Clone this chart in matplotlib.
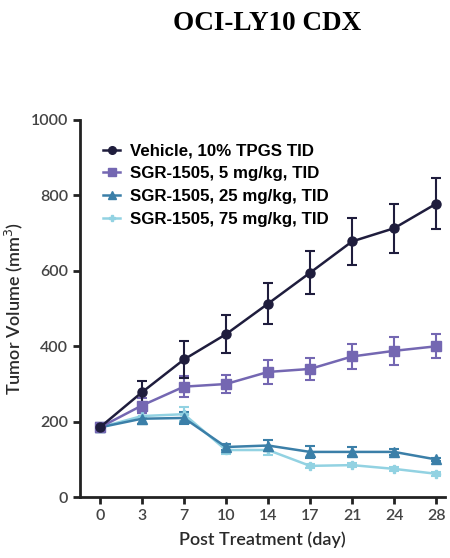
import matplotlib
matplotlib.use("Agg")
import matplotlib.pyplot as plt
from matplotlib.lines import Line2D
import numpy as np

days = ["0", "3", "7", "10", "14", "17", "21", "24", "28"]
labels = ["Vehicle, 10% TPGS TID", "SGR-1505, 5 mg/kg, TID",
          "SGR-1505, 25 mg/kg, TID", "SGR-1505, 75 mg/kg, TID"]
vehicle = [185, 278, 365, 432, 513, 595, 678, 713, 778]
vehicle_err = [12, 30, 50, 50, 55, 57, 62, 65, 68]
mg5 = [185, 243, 293, 300, 332, 340, 373, 388, 400]
mg5_err = [12, 20, 28, 25, 32, 30, 33, 37, 32]
mg25 = [185, 208, 210, 133, 137, 120, 120, 120, 100]
mg25_err = [12, 15, 15, 8, 15, 15, 12, 8, 5]
mg75 = [185, 215, 220, 125, 125, 83, 85, 75, 62]
mg75_err = [12, 20, 18, 10, 12, 5, 5, 5, 5]

series = [vehicle, mg5, mg25, mg75]
errors = [vehicle_err, mg5_err, mg25_err, mg75_err]
colors = ["#1f1d3d", "#7467b2", "#3b7fa8", "#92d2e2"]
markers = ["o", "s", "^", "P"]
msizes = [6.5, 6.5, 6.5, 5.5]

fig = plt.figure(figsize=(4.5, 5.58), dpi=100)
ax = fig.add_axes([0.178, 0.109, 0.81, 0.676])
x = np.arange(len(days))
for ys, es, c, m, ms in reversed(list(zip(series, errors, colors, markers, msizes))):
    ax.errorbar(x, ys, yerr=es, color=c, marker=m, markersize=ms, lw=1.8,
                capsize=3.5, elinewidth=1.5, capthick=1.5)

ax.set_xlim(-0.47, 8.2)
ax.set_ylim(0, 1000)
ax.set_yticks([0, 200, 400, 600, 800, 1000])
ax.set_xticks(x)
ax.set_xticklabels(days)
for s in ["top", "right"]:
    ax.spines[s].set_visible(False)
for s in ["left", "bottom"]:
    ax.spines[s].set_linewidth(2)
    ax.spines[s].set_color("#222222")
ax.tick_params(axis="both", direction="out", width=2, length=5, color="#222222",
               labelsize=11.5, labelcolor="#444444")
for lab in ax.get_xticklabels() + ax.get_yticklabels():
    lab.set_family("Lato")
    lab.set_weight("semibold")
ax.set_xlabel("Post Treatment (day)", fontsize=13, family="Lato", weight="semibold",
              color="#2a2a2a", labelpad=6)
ax.set_ylabel("Tumor Volume (mm$^3$)", fontsize=13, family="Lato", weight="semibold",
              color="#2a2a2a", labelpad=4)

handles = [Line2D([], [], color=c, marker=m, markersize=ms - 1, lw=1.8)
           for c, m, ms in zip(colors, markers, msizes)]
ax.legend(handles, labels, loc="upper left", bbox_to_anchor=(0.045, 0.955),
          frameon=False, prop={"family": "Liberation Sans", "weight": "bold", "size": 12.2},
          handlelength=1.0, handletextpad=0.55, labelspacing=0.45, borderaxespad=0)

fig.text(0.593, 0.957, "OCI-LY10 CDX", ha="center", va="center", fontsize=19.5,
         family="Liberation Serif", weight="bold")

fig.savefig("out.png", dpi=100)
